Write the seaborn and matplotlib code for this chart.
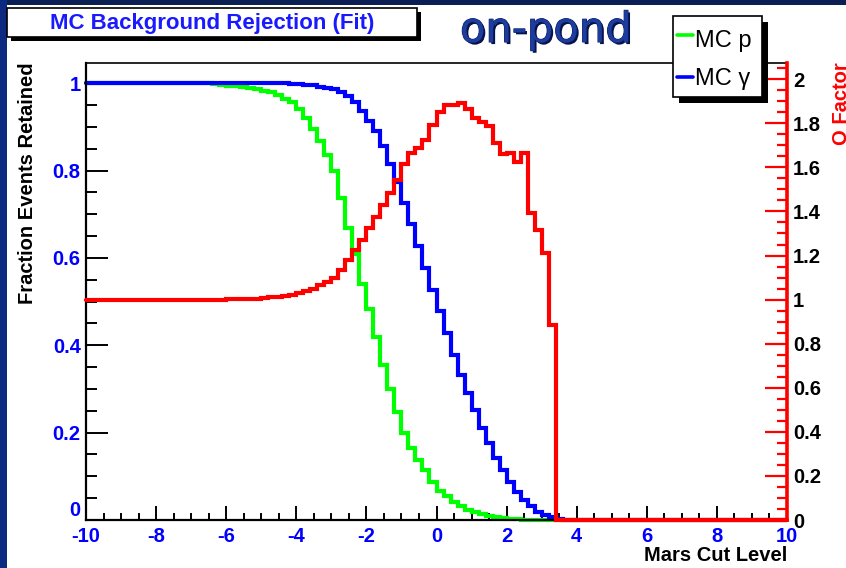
import numpy as np
import pandas as pd
import matplotlib
matplotlib.use("Agg")
import matplotlib.pyplot as plt
import matplotlib.patheffects as pe
from matplotlib.patches import Rectangle
from matplotlib.lines import Line2D
from matplotlib.ticker import MultipleLocator
import seaborn as sns

# ---------------- data ----------------
# 100 bins of width 0.2 on the "Mars Cut Level" axis, -10 .. 10
bin_range = (-10.0, 10.0)
n_bins = 100
cut_centers = np.round(np.linspace(-9.9, 9.9, n_bins), 2)

# MC protons: fraction of events retained
mc_p = ([1.0] * 18 +
        [0.998, 0.995, 0.994, 0.993, 0.992, 0.989, 0.987, 0.982, 0.979, 0.972,
         0.965, 0.956, 0.940, 0.921, 0.895, 0.868, 0.835, 0.800, 0.738, 0.669,
         0.608, 0.541, 0.482, 0.418, 0.356, 0.300, 0.248, 0.199, 0.164, 0.138,
         0.115, 0.088, 0.067, 0.054, 0.042, 0.031, 0.024, 0.019, 0.014, 0.009,
         0.006, 0.004, 0.003, 0.002, 0.001, 0.001, 0.001, 0.0005, 0.0005] +
        [0.0] * 33)

# MC gammas: fraction of events retained
mc_gamma = ([1.0] * 29 +
            [0.999, 0.998, 0.997, 0.995, 0.992, 0.990, 0.986, 0.979, 0.970, 0.956,
             0.937, 0.914, 0.891, 0.856, 0.816, 0.774, 0.726, 0.677, 0.627, 0.577,
             0.527, 0.478, 0.428, 0.378, 0.333, 0.290, 0.252, 0.210, 0.176, 0.141,
             0.115, 0.088, 0.065, 0.046, 0.031, 0.019, 0.011, 0.006, 0.002, 0.001] +
            [0.0] * 31)

# Q factor (right axis)
q_factor = ([1.0] * 20 +
            [1.002, 1.003, 1.003, 1.004, 1.005, 1.008, 1.010, 1.013, 1.018, 1.023,
             1.030, 1.038, 1.050, 1.065, 1.080, 1.100, 1.134, 1.179, 1.225, 1.270,
             1.323, 1.376, 1.429, 1.485, 1.542, 1.614, 1.663, 1.686, 1.724, 1.792,
             1.852, 1.882, 1.882, 1.893, 1.867, 1.822, 1.804, 1.788, 1.709, 1.659,
             1.667, 1.626, 1.667, 1.391, 1.315, 1.212, 0.884] +
            [0.0] * 33)

x_ticks = [-10, -8, -6, -4, -2, 0, 2, 4, 6, 8, 10]
x_ticklabels = ["-10", "-8", "-6", "-4", "-2", "0", "2", "4", "6", "8", "10"]
y_ticks = [0, 0.2, 0.4, 0.6, 0.8, 1.0]
y_ticklabels = ["0", "0.2", "0.4", "0.6", "0.8", "1"]
q_ticks = [0, 0.2, 0.4, 0.6, 0.8, 1.0, 1.2, 1.4, 1.6, 1.8, 2.0]
q_ticklabels = ["0", "0.2", "0.4", "0.6", "0.8", "1", "1.2", "1.4", "1.6", "1.8", "2"]

df = pd.DataFrame({"cut": cut_centers, "p": mc_p, "gamma": mc_gamma, "q": q_factor})

# ---------------- styling ----------------
sns.set_style("white")
plt.rcParams["font.family"] = ["Liberation Sans", "DejaVu Sans"]

W, H = 846, 568
def fx(px):
    return px / W
def fy(py):
    return 1 - py / H

GREEN, BLUE, RED = "#00ff00", "#0000ff", "#ff0000"
LBL = 14.5

fig = plt.figure(figsize=(W / 100, H / 100), dpi=100, facecolor="white")
ax = fig.add_axes([fx(86), fy(520), fx(787) - fx(86), fy(62.7) - fy(520)])
ax.set_facecolor("white")
ax2 = ax.twinx()

common = dict(data=df, x="cut", bins=n_bins, binrange=bin_range,
              element="step", fill=False, linewidth=3)
sns.histplot(weights="p", color=GREEN, ax=ax, **common)
sns.histplot(weights="gamma", color=BLUE, ax=ax, **common)
sns.histplot(weights="q", color=RED, ax=ax2, **common)
for ln in ax.lines + ax2.lines:
    ln.set_clip_on(False)
    ln.set_solid_joinstyle("miter")

ax.set_xlim(-10, 10)
ax.set_ylim(0, 1.047)
ax2.set_ylim(0, 2.075)
ax.set_xlabel("")
ax.set_ylabel("")
ax2.set_ylabel("")

ax.set_xticks(x_ticks)
ax.set_xticklabels(x_ticklabels)
ax.set_yticks(y_ticks)
ax.set_yticklabels(y_ticklabels)
ax.xaxis.set_minor_locator(MultipleLocator(0.5))
ax.yaxis.set_minor_locator(MultipleLocator(0.05))
ax2.set_yticks(q_ticks)
ax2.set_yticklabels(q_ticklabels)
ax2.yaxis.set_minor_locator(MultipleLocator(0.05))

ax.tick_params(axis="y", which="major", direction="in", length=15.8, width=1.4,
               color="black", labelcolor=BLUE, labelsize=LBL, pad=3.8,
               left=True, right=False)
ax.tick_params(axis="y", which="minor", direction="in", length=7.9, width=1.4,
               color="black", left=True, right=False)
ax.tick_params(axis="x", which="major", direction="in", length=10, width=1.4,
               color="black", labelcolor=BLUE, labelsize=LBL, pad=5,
               bottom=True, top=False)
ax.tick_params(axis="x", which="minor", direction="in", length=5, width=1.4,
               color="black", bottom=True, top=False)
ax2.tick_params(axis="y", which="major", direction="in", length=15.8, width=1.6,
                color=RED, labelcolor="black", labelsize=LBL, pad=4.3,
                right=True, left=False)
ax2.tick_params(axis="y", which="minor", direction="in", length=7.2, width=1.6,
                color=RED, right=True, left=False)

for lab in ax.get_xticklabels() + ax.get_yticklabels() + ax2.get_yticklabels():
    lab.set_fontweight("bold")
ax.get_yticklabels()[0].set_verticalalignment("bottom")

for s in ["left", "bottom"]:
    ax.spines[s].set_color("black")
    ax.spines[s].set_linewidth(1.6)
ax.spines["top"].set_color("black")
ax.spines["top"].set_linewidth(1.2)
ax.spines["right"].set_visible(False)
for s in ["left", "bottom", "top"]:
    ax2.spines[s].set_visible(False)
ax2.spines["right"].set_color(RED)
ax2.spines["right"].set_linewidth(2.6)

# ---------------- axis titles ----------------
fig.text(fx(27.5), fy(62.7), "Fraction Events Retained", rotation=90,
         ha="center", va="top", fontsize=LBL, fontweight="bold", color="black")
fig.text(fx(841), fy(62.7), "Q Factor", rotation=90,
         ha="center", va="top", fontsize=LBL, fontweight="bold", color=RED)
fig.text(fx(787), fy(561), "Mars Cut Level", ha="right", va="baseline",
         fontsize=LBL, fontweight="bold", color="black")

# ---------------- slide background strips ----------------
fig.patches.append(Rectangle((0, fy(4.5)), 1, fy(0) - fy(4.5), transform=fig.transFigure,
                             facecolor="#0b1f55", edgecolor="none", zorder=0))
fig.patches.append(Rectangle((0, 0), fx(7), 1, transform=fig.transFigure,
                             facecolor="#0b2a80", edgecolor="none", zorder=0))

# ---------------- title box ----------------
fig.patches.append(Rectangle((fx(11), fy(41)), fx(417) - fx(7), fy(8) - fy(37),
                             transform=fig.transFigure, facecolor="black",
                             edgecolor="none", zorder=5))
fig.patches.append(Rectangle((fx(7), fy(37)), fx(417) - fx(7), fy(8) - fy(37),
                             transform=fig.transFigure, facecolor="white",
                             edgecolor="black", linewidth=1.2, zorder=6))
fig.text(fx(212), fy(23), "MC Background Rejection (Fit)", ha="center", va="center",
         fontsize=16, fontweight="bold", color="#1a1aff", zorder=7)

# ---------------- "on-pond" ----------------
fig.text(fx(460), fy(42), "on-pond", ha="left", va="baseline", fontsize=30,
         family="DejaVu Sans", color="#1d3d9e", zorder=7,
         path_effects=[pe.withSimplePatchShadow(offset=(1.5, -1.5),
                                                shadow_rgbFace="#08124a", alpha=1.0),
                       pe.Stroke(linewidth=0.8, foreground="#0c1e66"),
                       pe.Normal()])

# ---------------- legend box ----------------
fig.patches.append(Rectangle((fx(679), fy(103)), fx(762) - fx(673), fy(16) - fy(97),
                             transform=fig.transFigure, facecolor="black",
                             edgecolor="none", zorder=5))
fig.patches.append(Rectangle((fx(673), fy(97)), fx(762) - fx(673), fy(16) - fy(97),
                             transform=fig.transFigure, facecolor="white",
                             edgecolor="black", linewidth=1.2, zorder=6))
fig.lines.append(Line2D([fx(677), fx(693)], [fy(35), fy(35)], transform=fig.transFigure,
                        color=GREEN, linewidth=2.6, zorder=7))
fig.lines.append(Line2D([fx(677), fx(693)], [fy(76.5), fy(76.5)], transform=fig.transFigure,
                        color=BLUE, linewidth=2.6, zorder=7))
fig.text(fx(695), fy(46.5), "MC p", ha="left", va="baseline", fontsize=17,
         color="black", zorder=7)
fig.text(fx(695), fy(85), "MC \u03b3", ha="left", va="baseline", fontsize=17,
         color="black", zorder=7)

fig.savefig("out.png", dpi=100, facecolor="white")
